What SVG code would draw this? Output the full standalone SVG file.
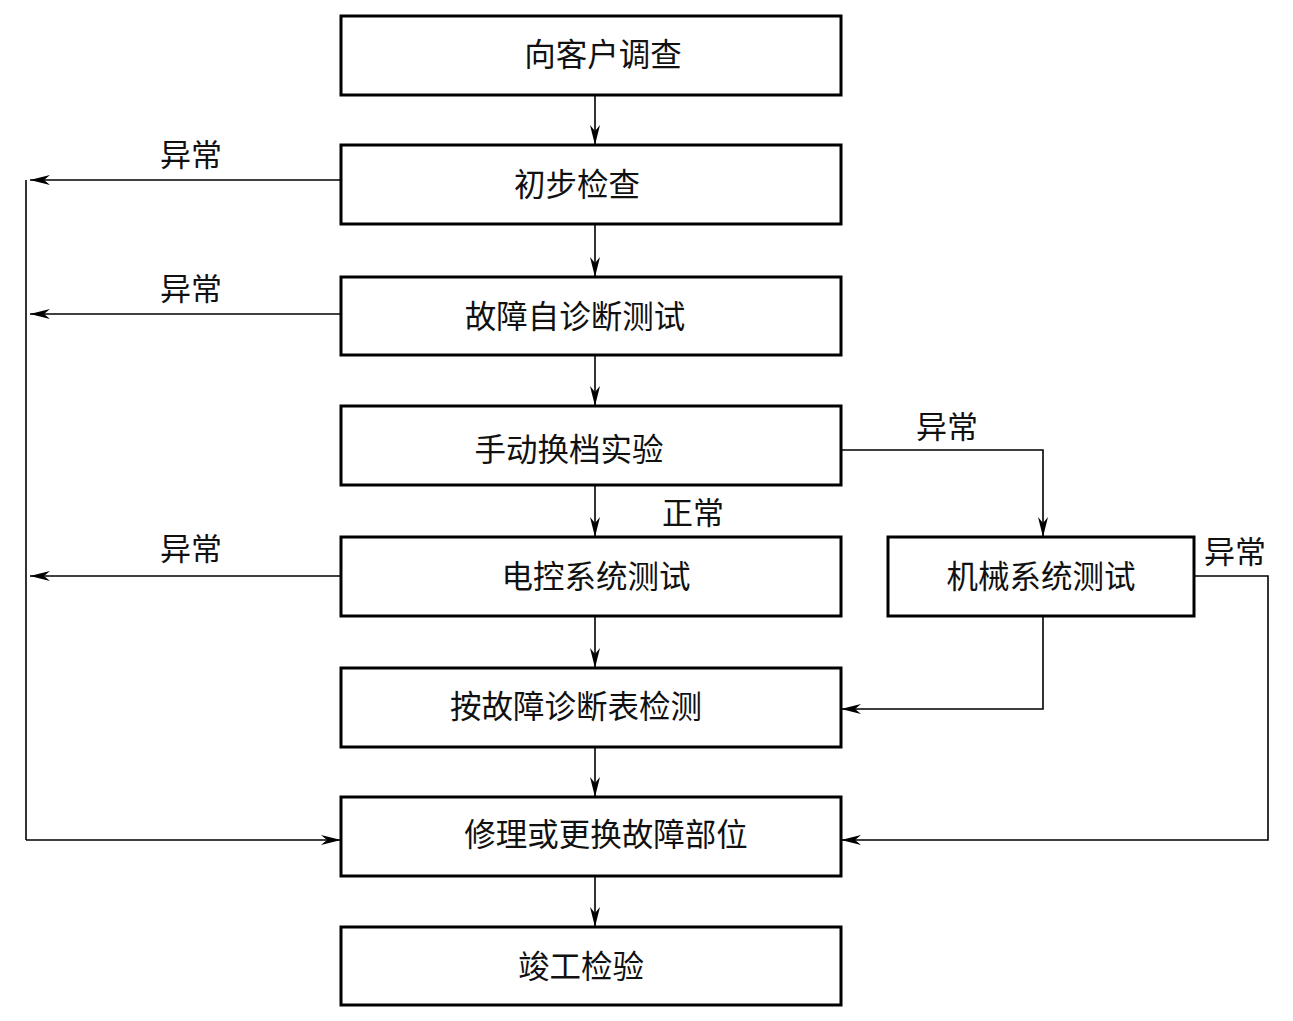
<svg xmlns="http://www.w3.org/2000/svg" width="1293" height="1021" viewBox="0 0 1293 1021">
<style>
.box{fill:#fff;stroke:#000;stroke-width:3}
.t{font-family:"Liberation Serif","Noto Sans CJK SC",serif;font-size:31.5px;fill:#111;text-anchor:middle;dominant-baseline:central}
.l{font-family:"Liberation Serif","Noto Sans CJK SC",serif;font-size:31px;fill:#111}
.c{fill:none;stroke:#000;stroke-width:1.6}
</style>
<defs>
<marker id="ah" markerWidth="22" markerHeight="10" refX="20" refY="5" orient="auto" markerUnits="userSpaceOnUse">
<path d="M0,0 L20,5 L0,10 L6,5 Z" fill="#000"/>
</marker>
</defs>
<rect width="1293" height="1021" fill="#fff"/>
<g id="connectors">
<line class="c" x1="595" y1="95" x2="595" y2="145" marker-end="url(#ah)"/>
<line class="c" x1="595" y1="224" x2="595" y2="277" marker-end="url(#ah)"/>
<line class="c" x1="595" y1="355" x2="595" y2="406" marker-end="url(#ah)"/>
<line class="c" x1="595" y1="485" x2="595" y2="537" marker-end="url(#ah)"/>
<line class="c" x1="595" y1="616" x2="595" y2="668" marker-end="url(#ah)"/>
<line class="c" x1="595" y1="747" x2="595" y2="797" marker-end="url(#ah)"/>
<line class="c" x1="595" y1="876" x2="595" y2="927" marker-end="url(#ah)"/>
<line class="c" x1="341" y1="180" x2="30" y2="180" marker-end="url(#ah)"/>
<line class="c" x1="341" y1="314" x2="30" y2="314" marker-end="url(#ah)"/>
<line class="c" x1="341" y1="576" x2="30" y2="576" marker-end="url(#ah)"/>
<line class="c" x1="26" y1="180" x2="26" y2="840"/>
<line class="c" x1="26" y1="840" x2="341" y2="840" marker-end="url(#ah)"/>
<polyline class="c" points="841,450 1043,450 1043,537" marker-end="url(#ah)"/>
<polyline class="c" points="1043,616 1043,709 841,709" marker-end="url(#ah)"/>
<polyline class="c" points="1194,576 1268,576 1268,840 841,840" marker-end="url(#ah)"/>
</g>
<g id="n1"><rect class="box" x="341" y="16" width="500" height="79"/><text class="t" x="603" y="55">向客户调查</text></g>
<g id="n2"><rect class="box" x="341" y="145" width="500" height="79"/><text class="t" x="577" y="185">初步检查</text></g>
<g id="n3"><rect class="box" x="341" y="277" width="500" height="78"/><text class="t" x="575" y="317">故障自诊断测试</text></g>
<g id="n4"><rect class="box" x="341" y="406" width="500" height="79"/><text class="t" x="569" y="450">手动换档实验</text></g>
<g id="n5"><rect class="box" x="341" y="537" width="500" height="79"/><text class="t" x="596" y="577">电控系统测试</text></g>
<g id="n6"><rect class="box" x="888" y="537" width="306" height="79"/><text class="t" x="1041" y="577">机械系统测试</text></g>
<g id="n7"><rect class="box" x="341" y="668" width="500" height="79"/><text class="t" x="576" y="707">按故障诊断表检测</text></g>
<g id="n8"><rect class="box" x="341" y="797" width="500" height="79"/><text class="t" x="606" y="835">修理或更换故障部位</text></g>
<g id="n9"><rect class="box" x="341" y="927" width="500" height="78"/><text class="t" x="581" y="967">竣工检验</text></g>
<g id="labels">
<text class="l" x="160" y="166">异常</text>
<text class="l" x="160" y="300">异常</text>
<text class="l" x="160" y="560">异常</text>
<text class="l" x="916" y="438">异常</text>
<text class="l" x="1204" y="563">异常</text>
<text class="l" x="662" y="524">正常</text>
</g>
</svg>
